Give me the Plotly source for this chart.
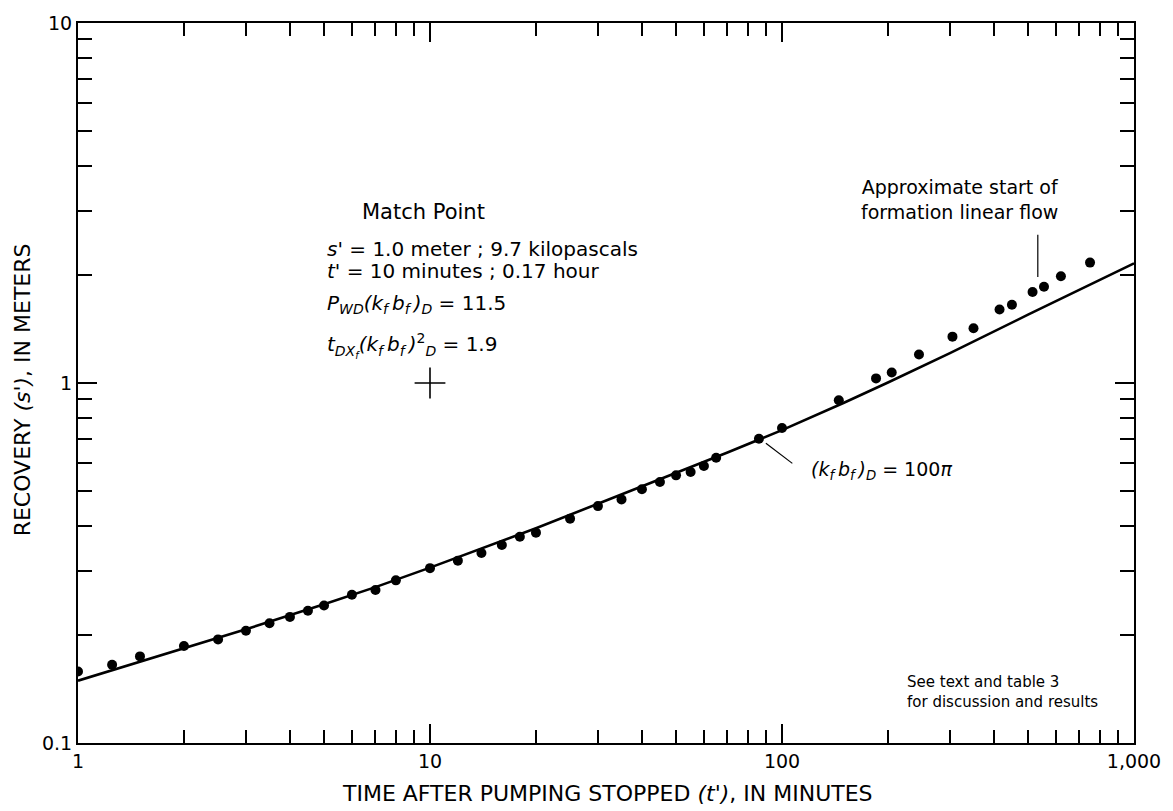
import plotly.graph_objects as go

t_obs = [1, 1.25, 1.5, 2, 2.5, 3, 3.5, 4, 4.5, 5, 6, 7, 8, 10, 12, 14, 16, 18, 20,
         25, 30, 35, 40, 45, 50, 55, 60, 65, 86, 100, 145, 185, 205, 245, 305, 350,
         415, 450, 515, 555, 620, 750]
s_obs = [0.158, 0.165, 0.174, 0.186, 0.194, 0.205, 0.215, 0.224, 0.233, 0.241, 0.258,
         0.266, 0.283, 0.306, 0.321, 0.337, 0.355, 0.374, 0.384, 0.42, 0.455, 0.475,
         0.507, 0.531, 0.554, 0.566, 0.588, 0.62, 0.70, 0.75, 0.896, 1.03, 1.07, 1.2,
         1.345, 1.42, 1.6, 1.65, 1.79, 1.85, 1.98, 2.16]

# type curve (k_f b_f)_D = 100 pi
t_curve = [1, 1.5, 2, 3, 5, 7, 10, 15, 20, 30, 50, 70, 100, 150, 200, 300, 500, 700, 1000]
s_curve = [0.149, 0.168, 0.183, 0.207, 0.243, 0.271, 0.307, 0.355, 0.395, 0.462, 0.562,
           0.641, 0.74, 0.881, 1.003, 1.211, 1.548, 1.815, 2.15]

# match point
match_t = [10]
match_s = [1.0]

x_major = [1, 10, 100, 1000]
x_labels = ["1", "10", "100", "1,000"]
x_minor = [m * d for d in (1, 10, 100) for m in range(2, 10)]
y_major = [0.1, 1, 10]
y_labels = ["0.1", "1", "10"]
y_minor = [m * d for d in (0.1, 1) for m in range(2, 10)]

FONT = "DejaVu Sans"
TS = "\u2009"  # thin space

fig = go.Figure()
fig.add_trace(go.Scatter(x=t_curve, y=s_curve, mode="lines",
                         line=dict(color="black", width=2.6)))
fig.add_trace(go.Scatter(x=t_obs, y=s_obs, mode="markers",
                         marker=dict(color="black", size=10)))
fig.add_trace(go.Scatter(x=match_t, y=match_s, mode="markers",
                         marker=dict(symbol="cross-thin", size=22,
                                     line=dict(color="black", width=1.6))))

axis_common = dict(type="log", showline=True, linecolor="black", linewidth=2,
                   mirror="allticks", ticks="inside", tickwidth=1.5, tickcolor="black",
                   showgrid=False, zeroline=False, tickmode="array",
                   tickfont=dict(family=FONT, size=19, color="black"))

fig.update_xaxes(range=[0, 3], tickvals=x_major, ticktext=x_labels, ticklen=19,
                 minor=dict(tickmode="array", tickvals=x_minor, ticks="inside",
                            ticklen=13, tickwidth=1.5, tickcolor="black", showgrid=False),
                 **axis_common)
fig.update_yaxes(range=[-1, 1], tickvals=y_major, ticktext=y_labels, ticklen=19,
                 minor=dict(tickmode="array", tickvals=y_minor, ticks="inside",
                            ticklen=14, tickwidth=1.5, tickcolor="black", showgrid=False),
                 **axis_common)

# leader lines
fig.add_shape(type="line", xref="x", yref="y", x0=533, x1=533, y0=1.97, y1=2.58,
              line=dict(color="black", width=1.2))
fig.add_shape(type="line", xref="x", yref="y", x0=90, x1=107, y0=0.68, y1=0.598,
              line=dict(color="black", width=1.2))

def note(text, x, y, size=20, xanchor="left", align="left"):
    fig.add_annotation(text=text, x=x, y=y, xref="paper", yref="paper",
                       xanchor=xanchor, yanchor="middle", align=align, showarrow=False,
                       font=dict(family=FONT, size=size, color="black"))

kb = f"<i>(k</i><sub><i>f</i></sub>{TS}<i>b</i><sub><i>f</i></sub>{TS}<i>)</i>"

note("Match Point", 0.3268, 0.738, size=21, xanchor="center")
note("<i>s'</i> = 1.0 meter ; 9.7 kilopascals", 0.2337, 0.6855)
note("<i>t'</i> = 10 minutes ; 0.17 hour", 0.2337, 0.6555)
note("<i>P</i><sub><i>WD</i></sub>" + kb + "<sub><i>D</i></sub> = 11.5", 0.2337, 0.610)
note("<i>t</i><sub><i>DX</i><sub><i>f</i></sub></sub>" + kb +
     "<sup>2</sup><sub><i>D</i></sub> = 1.9", 0.2337, 0.552)
note("Approximate start of<br>formation linear flow", 0.8355, 0.755, size=19,
     xanchor="center", align="center")
note(kb + "<sub><i>D</i></sub> = 100<i>π</i>", 0.8297, 0.378, size=19, xanchor="right")
note("See text and table 3<br>for discussion and results", 0.7828, 0.0703, size=15)

# axis titles
fig.add_annotation(text="TIME AFTER PUMPING STOPPED <i>(t')</i>, IN MINUTES",
                   x=0.5017, y=-0.0703, xref="paper", yref="paper", showarrow=False,
                   xanchor="center", yanchor="middle",
                   font=dict(family=FONT, size=22, color="black"))
fig.add_annotation(text="RECOVERY <i>(s')</i>, IN METERS", textangle=-90,
                   x=-0.0522, y=0.491, xref="paper", yref="paper", showarrow=False,
                   xanchor="center", yanchor="middle",
                   font=dict(family=FONT, size=22, color="black"))

fig.update_layout(width=1173, height=811, margin=dict(l=78, r=32, t=18, b=68),
                  plot_bgcolor="white", paper_bgcolor="white", showlegend=False,
                  font=dict(family=FONT, color="black"))

fig.write_html("out.html", config={"displayModeBar": False},
               post_script="document.body.style.margin='0';")
